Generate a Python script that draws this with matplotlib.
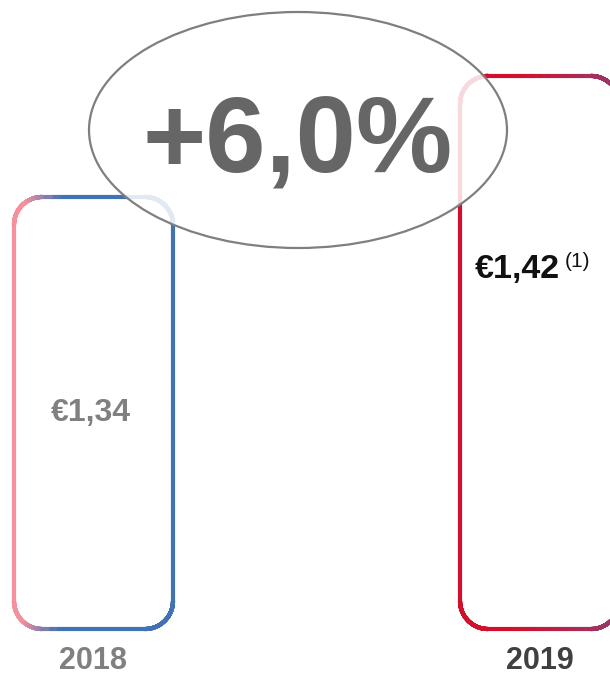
import matplotlib
matplotlib.use("Agg")
import matplotlib.pyplot as plt
import numpy as np
from matplotlib.collections import LineCollection
from matplotlib.colors import to_rgb
from matplotlib.patches import Ellipse

plt.rcParams["font.family"] = ["Liberation Sans", "DejaVu Sans"]

years = ["2018", "2019"]
values = [1.34, 1.42]
value_labels = ["€1,34", "€1,42"]
growth_label = "+6,0%"
footnote = "(1)"

BASE = 1.0544          # axis start hidden behind the bars
BAR_W = 0.3565
# gradient stroke colours: (start colour, end colour, where the blend starts, blend length)
GRADS = [("#f4919c", "#4272b6", 0.06, 0.22), ("#d2102c", "#953a6e", 0.35, 0.65)]
YEAR_COLORS = ["#808080", "#404040"]


def rounded_rect(x0, y0, x1, y1, rx, ry, n=40):
    """Points along a rounded rectangle outline (closed)."""
    pts = []
    corners = [(x1 - rx, y1 - ry, 0), (x0 + rx, y1 - ry, 90),
               (x0 + rx, y0 + ry, 180), (x1 - rx, y0 + ry, 270)]
    for cx, cy, a0 in corners:
        a = np.radians(np.linspace(a0, a0 + 90, n))
        pts.append(np.column_stack([cx + rx * np.cos(a), cy + ry * np.sin(a)]))
    pts = np.vstack(pts)
    pts = np.vstack([pts, pts[:1]])
    # densify straight edges
    out = []
    for p, q in zip(pts[:-1], pts[1:]):
        out.append(np.linspace(p, q, 12, endpoint=False))
    out.append(pts[-1:])
    return np.vstack(out)


fig = plt.figure(figsize=(6.10, 6.75), dpi=100)
ax = fig.add_axes([0, 0, 1, 1])
ax.set_xlim(-0.2096, 1.158)
ax.set_ylim(1.0240, 1.4702)
ax.axis("off")

px_x = 1 / 446.0      # data units per pixel
px_y = 1 / 1512.5
for i, (v, (c0, c1, t0, tl)) in enumerate(zip(values, GRADS)):
    x0, x1 = i - BAR_W / 2, i + BAR_W / 2
    pts = rounded_rect(x0, BASE, x1, v, 28 * px_x, 28 * px_y)
    segs = np.stack([pts[:-1], pts[1:]], axis=1)
    mid_x = (pts[:-1, 0] + pts[1:, 0]) / 2
    t = np.clip(((mid_x - x0) / BAR_W - t0) / tl, 0, 1)[:, None]
    cols = (1 - t) * np.array(to_rgb(c0)) + t * np.array(to_rgb(c1))
    lc = LineCollection(segs, colors=cols, linewidths=3.0, capstyle="round", zorder=2)
    ax.add_collection(lc)
    ax.text(i, 0.009, years[i], transform=ax.get_xaxis_transform(),
            ha="center", va="baseline", fontsize=22, fontweight="bold",
            color=YEAR_COLORS[i])

ax.text(0 - 0.005, (BASE + values[0]) / 2, value_labels[0], ha="center", va="center",
        fontsize=23, fontweight="bold", color="#808080", zorder=3)
ax.text(475 / 610, 1 - 278 / 675, value_labels[1], transform=ax.transAxes,
        ha="left", va="baseline", fontsize=24.5, fontweight="bold", color="#111111", zorder=3)
ax.text(565 / 610, 1 - 252 / 675, footnote, transform=ax.transAxes,
        ha="left", va="top", fontsize=15, color="#111111", zorder=3)

ell = Ellipse((298 / 610, 1 - 130 / 675), 418 / 610, 236 / 675, transform=ax.transAxes,
              facecolor=(1, 1, 1, 0.85), edgecolor="#7f7f7f", linewidth=1.6, zorder=4)
ax.add_patch(ell)
ax.text(298 / 610, 1 - 172 / 675, growth_label, transform=ax.transAxes,
        ha="center", va="baseline", fontsize=78, fontweight="bold", color="#666666", zorder=5)

fig.savefig("out.png", dpi=100, facecolor="white")
